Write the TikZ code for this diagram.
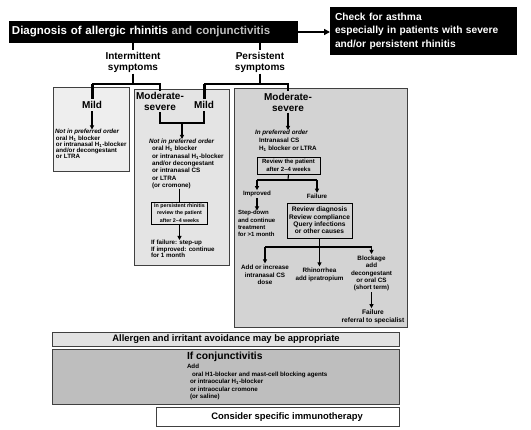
\documentclass[tikz,border=0pt]{standalone}
\usepackage{fontspec}
\setmainfont{Liberation Sans}
\usetikzlibrary{arrows.meta}
\newcommand\tinyf{\fontsize{6.3}{7.3}\selectfont\bfseries}
\newcommand\smallf{\fontsize{6.2}{7.5}\selectfont\bfseries}
\definecolor{gL}{HTML}{EEEEEE}
\definecolor{gM}{HTML}{E4E4E4}
\definecolor{gR}{HTML}{D3D3D3}
\definecolor{gA}{HTML}{E2E2E2}
\definecolor{gC}{HTML}{BEBEBE}
\begin{document}
\begin{tikzpicture}[x=1pt,y=-1pt,
  every node/.style={inner sep=0pt, outer sep=0pt},
  panel/.style={draw=black!75, line width=0.9pt, anchor=north west},
  blk/.style={fill=black, text=white, anchor=north west},
  inbox/.style={draw=black, line width=0.8pt, align=center, font=\tinyf},
  tinyt/.style={font=\tinyf, align=left, anchor=north west},
  ctr/.style={font=\tinyf, align=center},
  head/.style={font=\fontsize{10}{11}\selectfont\bfseries, align=center, inner sep=1.5pt},
  mildst/.style={font=\fontsize{10}{11}\selectfont\bfseries, inner sep=2.5pt},
  ln/.style={line width=1.1pt},
  bar/.style={line width=3pt},
  arr/.style={line width=1.1pt, -{Triangle[length=4pt,width=4pt]}},
]
\fill[white] (0,0) rectangle (531,430);
\useasboundingbox (0,0) rectangle (531,430);

% top
\node[blk, minimum width=289pt, minimum height=22pt, text width=283pt, inner xsep=3pt, align=left,
      font=\fontsize{11.5}{13}\selectfont\bfseries] (title) at (9,21)
      {Diagnosis of allergic rhinitis {\color{black!25}and conjunctivitis}};
\node[blk, minimum height=48pt, text width=177pt, inner xsep=5pt, align=left,
      font=\fontsize{10.2}{13.5}\selectfont\bfseries] (asthma) at (330,7)
      {Check for asthma\\especially in patients with severe\\and/or persistent rhinitis};
\draw[line width=2pt, -{Triangle[length=6pt,width=6pt]}] (title.east) -- (asthma.west |- title.east);

\node[head] (inter) at (133,62) {Intermittent\\symptoms};
\node[head] (pers) at (260,62) {Persistent\\symptoms};
\draw[ln] (title.south -| inter.north) -- (inter.north);
\draw[ln] (title.south -| pers.north) -- (pers.north);

% panels
\node[panel, fill=gL, minimum width=76pt, minimum height=84pt] (boxL) at (53,87) {};
\node[panel, fill=gM, minimum width=95pt, minimum height=176pt] (boxM) at (134,89) {};
\node[panel, fill=gR, minimum width=173pt, minimum height=239pt] (boxR) at (234,88) {};

% headings in panels
\node[mildst] (mildL) at (92,105) {Mild};
\node[head] (modM) at (160,101.5) {Moderate-\\severe};
\node[mildst] (mildM) at (204,105) {Mild};
\node[head] (modR) at (288,102) {Moderate-\\severe};

\coordinate (ij) at (133,84);
\coordinate (pj) at (260,84);
\draw[ln] (inter.south) -- (inter.south |- ij);
\draw[ln] (mildL.north |- ij) -- (modM.north |- ij) -- (modM.north);
\draw[bar] (mildL.north |- ij) -- (mildL.north);
\draw[ln] (pers.south) -- (pers.south |- pj);
\draw[ln] (mildM.north |- pj) -- (modR.north |- pj) -- (modR.north);
\draw[bar] (mildM.north |- pj) -- (mildM.north);

% left panel
\node[tinyt, font=\fontsize{6.2}{6.2}\selectfont\bfseries] (txtL) at (55,129.5)
  {\textit{Not in preferred order}\\
   \hspace*{1pt}oral H\textsubscript{1} blocker\\
   \hspace*{1pt}or intranasal H\textsubscript{1}-blocker\\
   \hspace*{1pt}and/or decongestant\\
   \hspace*{1pt}or LTRA};
\draw[arr] (mildL.south) -- (mildL.south |- txtL.north);

% middle panel
\coordinate (brk) at (182,123);
\draw[ln] (modM.south) -- (modM.south |- brk) -- (mildM.south |- brk) -- (mildM.south);
\node[tinyt] (txtM) at (149,139)
  {\textit{Not in preferred order}\\
   \hspace*{3pt}oral H\textsubscript{1} blocker\\
   \hspace*{3pt}or intranasal H\textsubscript{1}-blocker\\
   \hspace*{3pt}and/or decongestant\\
   \hspace*{3pt}or intranasal CS\\
   \hspace*{3pt}or LTRA\\
   \hspace*{3pt}(or cromone)};
\draw[arr] (brk) -- (brk |- txtM.north);
\node[inbox, font=\fontsize{5.3}{7.3}\selectfont\bfseries, minimum width=56pt, minimum height=22pt] (revM) at (179.5,213)
  {In persistent rhinitis\\review the patient\\after 2--4 weeks};
\draw[ln] (revM.north |- txtM.south) -- (revM.north);
\node[tinyt, font=\fontsize{6.2}{6.6}\selectfont\bfseries] (txtM2) at (151,240)
  {If failure: step-up\\If improved: continue\\for 1 month};
\draw[arr] (revM.south) -- (revM.south |- txtM2.north);

% right panel
\node[tinyt, font=\fontsize{6.3}{8}\selectfont\bfseries] (txtR) at (255,130)
  {\textit{In preferred order}\\
   \hspace*{4pt}Intranasal CS\\
   \hspace*{4pt}H\textsubscript{1} blocker or LTRA};
\draw[arr] (modR.south) -- (modR.south |- txtR.north);
\node[inbox, font=\fontsize{6}{7.3}\selectfont\bfseries, minimum width=63pt, minimum height=17pt] (revR) at (288.5,165.5)
  {Review the patient\\after 2--4 weeks};
\node[ctr, font=\smallf, inner sep=1pt] (impr) at (257,194) {Improved};
\node[ctr, font=\smallf, inner sep=1pt] (fail) at (317,196) {Failure};
\coordinate (b1) at (288,180);
\draw[ln] (revR.south) -- (b1);
\draw[ln] (impr.north |- b1) -- (fail.north |- b1);
\draw[arr] (impr.north |- b1) -- (impr.north);
\draw[arr] (fail.north |- b1) -- (fail.north);
\node[tinyt, font=\fontsize{6}{7.3}\selectfont\bfseries] (step) at (238,210.5)
  {Step-down\\and continue\\treatment\\for >1 month};
\draw[arr] (impr.south) -- (impr.south |- step.north);
\node[inbox, font=\fontsize{6.6}{7.3}\selectfont\bfseries, minimum width=65pt, minimum height=35pt] (revD) at (319.5,220.5)
  {Review diagnosis\\Review compliance\\Query infections\\or other causes};
\node[ctr] (addI) at (265,275) {Add or increase\\intranasal CS\\dose};
\node[ctr] (rhin) at (319.5,275) {Rhinorrhea\\add ipratropium};
\node[ctr] (block) at (371.5,273.5) {Blockage\\add\\decongestant\\or oral CS\\(short term)};
\node[ctr, font=\fontsize{6.6}{7.5}\selectfont\bfseries] (failR) at (373,317) {Failure\\referral to specialist};
\coordinate (b2) at (319.5,247);
\draw[ln] (revD.south) -- (b2);
\draw[ln] (addI.north |- b2) -- (block.north |- b2);
\draw[arr] (addI.north |- b2) -- ([yshift=2pt]addI.north);
\draw[arr] (b2) -- ([yshift=2pt]rhin.north);
\draw[arr] (block.north |- b2) -- ([yshift=2pt]block.north);
\draw[arr] ([yshift=-1pt]block.south) -- ([yshift=2pt]block.south |- failR.north);

% bottom
\node[panel, fill=gA, minimum width=347pt, minimum height=14pt] (allerg) at (52,332) {};
\node[font=\fontsize{9.4}{10}\selectfont\bfseries] (allergT) at (226,339) {Allergen and irritant avoidance may be appropriate};
\node[panel, fill=gC, minimum width=347pt, minimum height=55pt] (conj) at (52,349) {};
\node[anchor=north west, font=\fontsize{10.3}{11}\selectfont\bfseries] (conjH) at (187,352.5) {If conjunctivitis};
\node[tinyt, font=\fontsize{6.2}{7.5}\selectfont\bfseries] (conjT) at (187,364.5)
  {Add\\
   \hspace*{5pt}oral H1-blocker and mast-cell blocking agents\\
   \hspace*{3pt}or intraocular H\textsubscript{1}-blocker\\
   \hspace*{3pt}or intraocular cromone\\
   \hspace*{3pt}(or saline)};
\node[panel, fill=white, minimum width=243pt, minimum height=19pt] (immuno) at (156,407) {};
\node[font=\fontsize{9.4}{10}\selectfont\bfseries] (immunoT) at (287,417) {Consider specific immunotherapy};
\end{tikzpicture}
\end{document}
